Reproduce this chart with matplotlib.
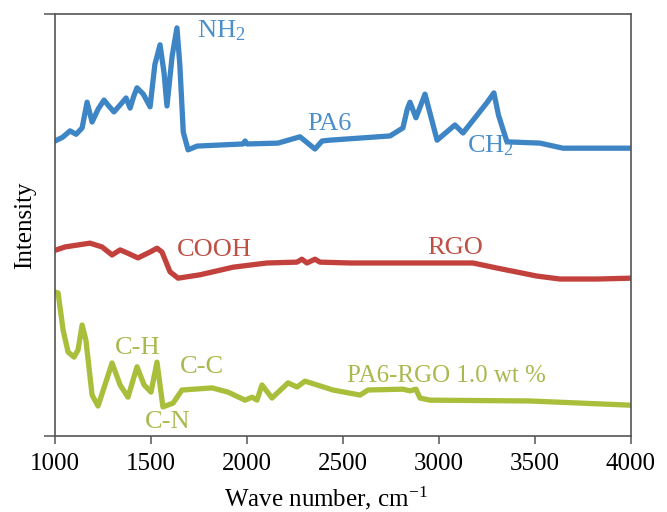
import matplotlib
matplotlib.use('Agg')
import matplotlib.pyplot as plt

plt.rcParams.update({'font.family': ['Liberation Serif', 'DejaVu Serif'],
                     'mathtext.fontset': 'custom',
                     'mathtext.rm': 'Liberation Serif',
                     'mathtext.it': 'Liberation Serif:italic',
                     'mathtext.bf': 'Liberation Serif:bold'})

# --- spectra (wave number, cm-1 ; intensity, a.u.) ---
pa6_wn = [1000, 1040, 1078, 1110, 1141, 1167, 1193, 1225, 1255, 1280, 1307, 1340, 1370,
          1391, 1410, 1427, 1460, 1495, 1520, 1547, 1568, 1583, 1610, 1635, 1650, 1668,
          1693, 1740, 1979, 1990, 2001, 2161, 2276, 2354, 2391, 2432, 2745, 2812, 2835,
          2849, 2880, 2927, 2990, 3083, 3125, 3250, 3286, 3310, 3354, 3526, 3646, 4000]
pa6_int = [69.9, 70.8, 72.3, 71.5, 73.0, 79.1, 74.4, 77.5, 79.6, 78.2, 76.8, 78.5, 80.1,
           77.7, 80.5, 82.5, 81.0, 78.0, 88.0, 92.7, 86.0, 78.2, 90.0, 96.7, 88.0, 72.0,
           67.8, 68.7, 69.2, 69.9, 69.2, 69.4, 70.9, 68.0, 69.9, 70.1, 71.1, 73.0, 77.5,
           79.1, 75.4, 81.0, 70.1, 73.7, 71.8, 79.0, 81.3, 76.0, 69.7, 69.4, 68.2, 68.2]

rgo_wn = [1000, 1052, 1182, 1245, 1297, 1339, 1375, 1432, 1495, 1531, 1557, 1599, 1641,
          1755, 1927, 2104, 2260, 2286, 2312, 2354, 2380, 2536, 3177, 3302, 3510, 3630,
          3823, 4000]
rgo_int = [44.0, 44.8, 45.7, 44.8, 42.9, 44.1, 43.4, 42.2, 43.6, 44.5, 43.6, 38.9, 37.4,
           38.2, 40.0, 41.0, 41.2, 41.9, 41.0, 41.9, 41.2, 41.0, 41.0, 39.8, 37.9, 37.2,
           37.2, 37.4]

comp_wn = [1000, 1016, 1042, 1068, 1099, 1120, 1141, 1161, 1193, 1224, 1260, 1297, 1339,
           1380, 1427, 1464, 1500, 1531, 1562, 1615, 1661, 1818, 1901, 1990, 2026, 2052,
           2078, 2130, 2214, 2260, 2302, 2448, 2589, 2630, 2812, 2849, 2880, 2901, 2953,
           3474, 4000]
comp_int = [34.1, 33.9, 25.1, 19.9, 18.7, 20.4, 26.3, 22.7, 9.7, 7.1, 12.1, 17.3, 12.1,
            9.2, 16.4, 12.1, 10.4, 17.5, 6.9, 7.8, 10.9, 11.4, 10.4, 8.5, 9.2, 8.5,
            12.1, 9.0, 12.6, 11.6, 13.0, 10.9, 9.7, 10.9, 11.1, 10.7, 11.1, 9.0, 8.5,
            8.3, 7.3]

c_blue, c_red, c_green = '#3E85C6', '#C2413D', '#A9BE3B'
t_blue, t_red, t_green = '#4B8FCB', '#BF5045', '#A8BA4E'

fig = plt.figure(figsize=(6.67, 5.12), dpi=100)
ax = fig.add_axes([0.0825, 0.1484, 0.8635, 0.8243])

lw = 3.8
for xs, ys, c in [(pa6_wn, pa6_int, c_blue), (rgo_wn, rgo_int, c_red), (comp_wn, comp_int, c_green)]:
    ax.plot(xs, ys, color=c, lw=lw, solid_joinstyle='round', solid_capstyle='round')

ax.set_xlim(1000, 4000)
ax.set_ylim(0, 100)
ax.set_xticks([1000, 1500, 2000, 2500, 3000, 3500, 4000])
ax.set_yticks([0, 100])
ax.set_yticklabels([])
ax.tick_params(axis='x', direction='out', length=6, width=1.1, color='#555555',
               labelsize=18, pad=6)
ax.tick_params(axis='y', direction='out', length=8, width=1.1, color='#555555')
for s in ax.spines.values():
    s.set_color('#555555')
    s.set_linewidth(1.2)

ax.set_xlabel('Wave number, cm$^{-1}$', fontsize=18)
ax.xaxis.set_label_coords(0.47, -0.115)
ax.set_ylabel('Intensity', fontsize=18, labelpad=2)

fs = 19
kw = dict(fontsize=fs, ha='left', va='baseline')
ax.text(1740, 94.5, 'NH$_2$', color=t_blue, **kw)
ax.text(2312, 72.5, 'PA6', color=t_blue, **kw)
ax.text(3146, 67.3, 'CH$_2$', color=t_blue, **kw)
ax.text(1635, 42.7, 'COOH', color=t_red, **kw)
ax.text(2937, 43.1, 'RGO', color=t_red, **kw)
ax.text(1312, 19.4, 'C-H', color=t_green, **kw)
ax.text(1651, 14.9, 'C-C', color=t_green, **kw)
ax.text(1469, 1.9, 'C-N', color=t_green, **kw)
ax.text(2521, 12.8, 'PA6-RGO 1.0 wt %', color=t_green, fontsize=18, ha='left', va='baseline')

fig.savefig('out.png', dpi=100)
